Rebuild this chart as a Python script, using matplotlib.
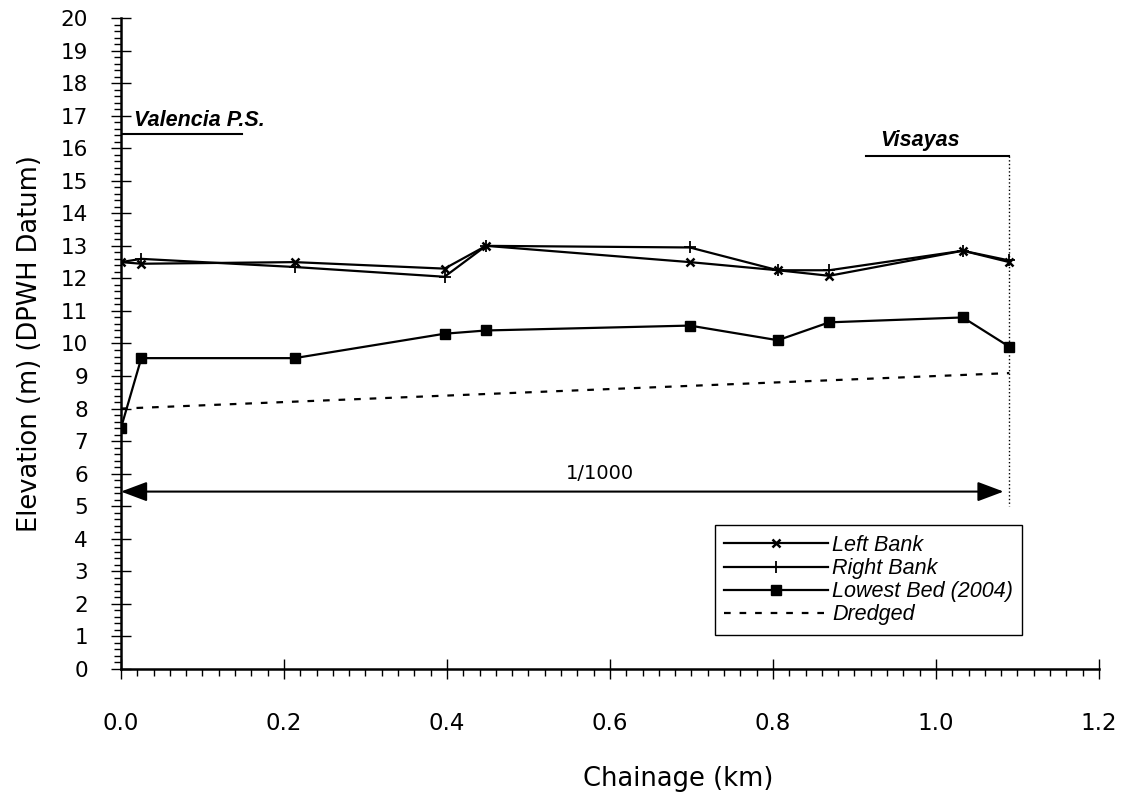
import numpy as np
import matplotlib.pyplot as plt
from matplotlib.ticker import MultipleLocator

# ==========================
# DATA
# ==========================

chainage = [0.0, 0.025, 0.213, 0.397, 0.448, 0.698, 0.806, 0.869, 1.033, 1.090]
left_bank = [12.5, 12.45, 12.5, 12.3, 13.0, 12.5, 12.25, 12.08, 12.85, 12.5]
right_bank = [12.5, 12.6, 12.35, 12.05, 13.0, 12.95, 12.25, 12.25, 12.85, 12.55]
lowest_bed = [7.4, 9.55, 9.55, 10.3, 10.4, 10.55, 10.1, 10.65, 10.8, 9.9]

dredged_x = [0.0, 1.090]
dredged_y = [8.0, 9.09]

# ==========================
# FIGURE
# ==========================

fig = plt.figure(figsize=(11.23, 7.93), dpi=100)
ax = fig.add_axes([0.1077, 0.1564, 0.8709, 0.8209])

ax.plot(chainage, left_bank, color="black", linewidth=1.6,
        marker="x", markersize=6, markeredgewidth=1.8, label="Left Bank")
ax.plot(chainage, right_bank, color="black", linewidth=1.6,
        marker="+", markersize=8, markeredgewidth=1.3, label="Right Bank")
ax.plot(chainage, lowest_bed, color="black", linewidth=1.6,
        marker="s", markersize=7, label="Lowest Bed (2004)")
ax.plot(dredged_x, dredged_y, color="black", linewidth=1.6,
        linestyle=(0, (3, 4)), label="Dredged")

# annotations
ax.text(0.016, 16.68, "Valencia P.S.", fontsize=15.5, fontweight="bold",
        fontstyle="italic", family="Liberation Sans", ha="left",
        va="baseline")
ax.plot([0.0, 0.149], [16.43, 16.43], color="black", linewidth=1.5)

ax.text(0.932, 16.07, "Visayas", fontsize=15.5, fontweight="bold",
        fontstyle="italic", family="Liberation Sans", ha="left",
        va="baseline")
ax.plot([0.914, 1.090], [15.76, 15.76], color="black", linewidth=1.5)
ax.plot([1.090, 1.090], [15.76, 5.0], color="black", linewidth=1,
        linestyle=":")

ax.annotate("", xy=(1.083, 5.45), xytext=(0.0, 5.45),
            arrowprops=dict(arrowstyle="<|-|>,head_length=0.8,head_width=0.3",
                            color="black", lw=1.5, mutation_scale=20,
                            shrinkA=0, shrinkB=0))
ax.text(0.588, 5.72, "1/1000", fontsize=14, ha="center", va="bottom")

# ==========================
# AXES
# ==========================

ax.set_xlim(0, 1.2)
ax.set_ylim(0, 20)
ax.xaxis.set_major_locator(MultipleLocator(0.2))
ax.xaxis.set_minor_locator(MultipleLocator(0.02))
ax.yaxis.set_major_locator(MultipleLocator(1))
ax.yaxis.set_minor_locator(MultipleLocator(0.2))
ax.xaxis.set_major_formatter(plt.FuncFormatter(lambda v, p: f"{v:.1f}"))

ax.spines["top"].set_visible(False)
ax.spines["right"].set_visible(False)
ax.spines["left"].set_linewidth(1.8)
ax.spines["bottom"].set_linewidth(1.8)

ax.tick_params(axis="both", which="major", direction="inout", length=14.4,
               width=1)
ax.tick_params(axis="both", which="minor", direction="out", length=5,
               width=1)
ax.tick_params(axis="x", which="major", pad=24, labelsize=16.5)
ax.tick_params(axis="y", which="major", pad=16.5, labelsize=15.5)

ax.set_xlabel("Chainage (km)", fontsize=18.5, labelpad=22, x=0.57)
ax.set_ylabel("Elevation (m) (DPWH Datum)", fontsize=18.5, labelpad=13)

leg = ax.legend(loc="lower left", bbox_to_anchor=(0.607, 0.052),
                borderaxespad=0,
                prop={"family": "Liberation Sans", "style": "italic",
                      "size": 15.5},
                handlelength=4.8, handletextpad=0.2, labelspacing=0.1,
                borderpad=0.45, fancybox=False, edgecolor="black",
                framealpha=1)
leg.get_frame().set_linewidth(1)

plt.savefig("out.png", dpi=100)
